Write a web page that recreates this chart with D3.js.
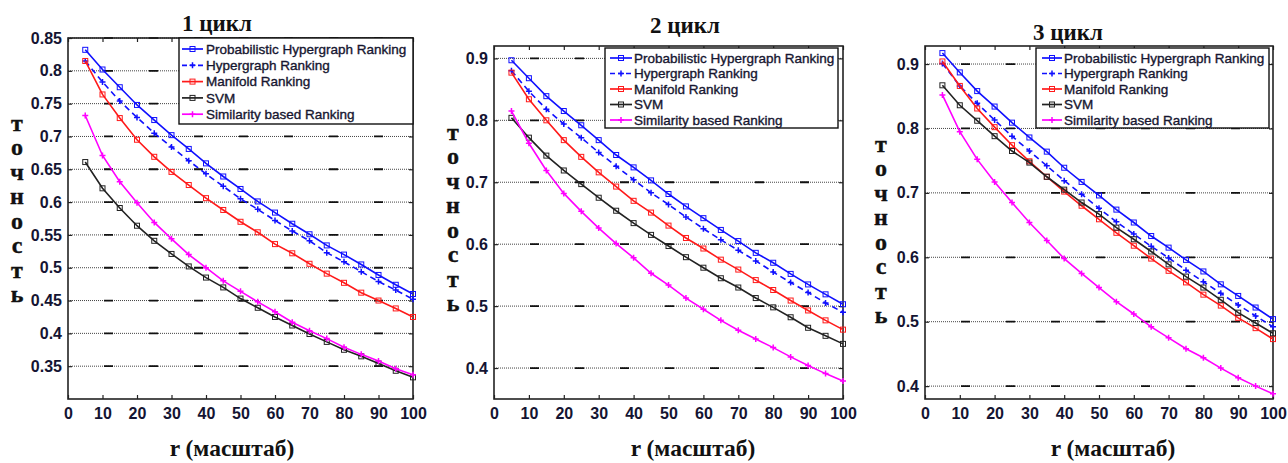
<!DOCTYPE html>
<meta charset="utf-8">
<script src="https://d3js.org/d3.v7.min.js"></script>
<style>
  body { margin: 0; background: #fff; }
  svg { display: block; }
</style>
<div id="chart"></div>
<script>
// data
var rValues = [5,10,15,20,25,30,35,40,45,50,55,60,65,70,75,80,85,90,95,100];
var seriesNames = ["Probabilistic Hypergraph Ranking", "Hypergraph Ranking", "Manifold Ranking", "SVM", "Similarity based Ranking"];
var titles = ["1 цикл", "2 цикл", "3 цикл"];
var xTicks = [0,10,20,30,40,50,60,70,80,90,100];
var yTicks1 = [0.35,0.4,0.45,0.5,0.55,0.6,0.65,0.7,0.75,0.8,0.85];
var yTicks2 = [0.4,0.5,0.6,0.7,0.8,0.9];
var yTicks3 = [0.4,0.5,0.6,0.7,0.8,0.9];

var cycle1 = [
  [0.832,0.802,0.775,0.748,0.725,0.702,0.681,0.659,0.639,0.620,0.601,0.584,0.567,0.551,0.534,0.520,0.505,0.489,0.474,0.460],
  [0.815,0.783,0.754,0.729,0.705,0.684,0.663,0.643,0.624,0.605,0.589,0.572,0.556,0.541,0.523,0.509,0.494,0.479,0.466,0.452],
  [0.815,0.764,0.728,0.695,0.669,0.646,0.626,0.606,0.588,0.570,0.554,0.536,0.522,0.506,0.491,0.477,0.462,0.450,0.438,0.425],
  [0.661,0.621,0.591,0.564,0.541,0.521,0.502,0.485,0.470,0.453,0.439,0.425,0.412,0.399,0.387,0.375,0.365,0.354,0.343,0.333],
  [0.732,0.671,0.631,0.599,0.569,0.544,0.520,0.500,0.480,0.464,0.448,0.433,0.417,0.404,0.392,0.379,0.368,0.358,0.346,0.337]
];
var cycle2 = [
  [0.897,0.868,0.839,0.815,0.792,0.768,0.744,0.724,0.703,0.681,0.661,0.642,0.623,0.605,0.586,0.570,0.552,0.535,0.519,0.503],
  [0.880,0.847,0.818,0.794,0.772,0.748,0.726,0.704,0.683,0.664,0.644,0.625,0.607,0.590,0.573,0.555,0.538,0.522,0.505,0.490],
  [0.877,0.834,0.800,0.768,0.741,0.716,0.693,0.670,0.651,0.630,0.610,0.593,0.575,0.559,0.542,0.526,0.509,0.493,0.477,0.462],
  [0.804,0.772,0.743,0.719,0.697,0.675,0.654,0.634,0.615,0.597,0.579,0.562,0.545,0.530,0.513,0.498,0.482,0.465,0.452,0.439],
  [0.815,0.763,0.719,0.682,0.653,0.626,0.601,0.578,0.553,0.534,0.513,0.495,0.477,0.461,0.447,0.433,0.418,0.404,0.391,0.379]
];
var cycle3 = [
  [0.917,0.887,0.858,0.834,0.809,0.786,0.764,0.739,0.717,0.696,0.674,0.654,0.633,0.615,0.596,0.578,0.558,0.540,0.522,0.504],
  [0.901,0.866,0.839,0.813,0.788,0.765,0.742,0.719,0.698,0.676,0.655,0.636,0.617,0.599,0.580,0.562,0.544,0.526,0.509,0.492],
  [0.904,0.866,0.831,0.802,0.774,0.749,0.725,0.702,0.680,0.659,0.638,0.618,0.598,0.579,0.561,0.542,0.525,0.506,0.490,0.473],
  [0.867,0.836,0.812,0.788,0.765,0.747,0.725,0.705,0.685,0.667,0.646,0.628,0.609,0.589,0.570,0.553,0.534,0.514,0.498,0.482],
  [0.852,0.795,0.752,0.717,0.685,0.654,0.626,0.598,0.575,0.553,0.531,0.512,0.492,0.475,0.458,0.444,0.428,0.413,0.400,0.388]
];

// styles per series
var colors = ["#1010ff", "#1010ff", "#ff1a1a", "#222222", "#ff00ff"];
var dashes = [null, "6,4", null, null, null];
var markers = ["square", "plus", "square", "square", "plus"];

// layout per panel
var panels = [
  {data: cycle1, yDomain: [0.30, 0.85], yTicks: yTicks1, fmt: function(d){ return d3.format(".2f")(d).replace(/0$/, ""); },
   x0: 68, x1: 413, y0: 38, y1: 399, titleX: 217, titleY: 31, labX: 17, labY: 123, xlabX: 232,
   leg: {x: 179, y: 38, w: 234, h: 86, row0: 49, dy: 16.3, lx0: 182, lx1: 203, tx: 206}},
  {data: cycle2, yDomain: [0.35, 0.92], yTicks: yTicks2, fmt: d3.format(".1f"),
   x0: 494, x1: 843, y0: 46, y1: 399, titleX: 685, titleY: 33, labX: 453, labY: 132, xlabX: 693,
   leg: {x: 605, y: 48, w: 233, h: 80, row0: 58, dy: 15.5, lx0: 610, lx1: 632, tx: 634}},
  {data: cycle3, yDomain: [0.38, 0.928], yTicks: yTicks3, fmt: d3.format(".1f"),
   x0: 925, x1: 1273, y0: 46, y1: 399, titleX: 1068, titleY: 40, labX: 881, labY: 144, xlabX: 1113,
   leg: {x: 1036, y: 48, w: 233, h: 80, row0: 58, dy: 15.5, lx0: 1042, lx1: 1062, tx: 1064}}
];

var svg = d3.select("#chart").append("svg")
  .attr("width", 1288).attr("height", 463);

var serif = "'Liberation Serif','Times New Roman',serif";
var sans = "'Liberation Sans',Arial,sans-serif";

function drawMarker(g, type, cx, cy, color) {
  if (type === "square") {
    g.append("rect").attr("x", cx - 2.5).attr("y", cy - 2.5)
      .attr("width", 5).attr("height", 5)
      .attr("fill", "none").attr("stroke", color).attr("stroke-width", 1);
  } else {
    g.append("path").attr("d", "M" + (cx - 3) + "," + cy + "h6M" + cx + "," + (cy - 3) + "v6")
      .attr("stroke", color).attr("stroke-width", 1.5);
  }
}

panels.forEach(function(p, pi) {
  var x = d3.scaleLinear().domain([0, 100]).range([p.x0, p.x1]);
  var y = d3.scaleLinear().domain(p.yDomain).range([p.y1, p.y0]);
  var g = svg.append("g");

  // grid: dotted line plus short solid dashes
  p.yTicks.forEach(function(t) {
    g.append("line").attr("x1", p.x0).attr("x2", p.x1).attr("y1", y(t)).attr("y2", y(t))
      .attr("stroke", "#444").attr("stroke-width", 1).attr("stroke-dasharray", "1,1");
    g.append("line").attr("x1", p.x0).attr("x2", p.x1).attr("y1", y(t)).attr("y2", y(t))
      .attr("stroke", "#111").attr("stroke-width", 1.8)
      .attr("stroke-dasharray", "0,36,9,0");
  });

  // axes, ticks inward
  var xb = g.append("g").attr("transform", "translate(0," + p.y1 + ")")
    .call(d3.axisBottom(x).tickValues(xTicks).tickSize(-4).tickPadding(9));
  var xt = g.append("g").attr("transform", "translate(0," + p.y0 + ")")
    .call(d3.axisTop(x).tickValues(xTicks).tickSize(-4).tickFormat(""));
  var yl = g.append("g").attr("transform", "translate(" + p.x0 + ",0)")
    .call(d3.axisLeft(y).tickValues(p.yTicks).tickSize(-4).tickPadding(6).tickFormat(p.fmt));
  var yr = g.append("g").attr("transform", "translate(" + p.x1 + ",0)")
    .call(d3.axisRight(y).tickValues(p.yTicks).tickSize(-4).tickFormat(""));
  [xb, xt, yl, yr].forEach(function(a) {
    a.select(".domain").remove();
    a.selectAll(".tick line").attr("stroke", "#222").attr("stroke-width", 1.2);
    a.selectAll("text").attr("font-family", sans).attr("font-weight", "bold")
      .attr("font-size", 16).attr("fill", "#141432");
  });
  xb.selectAll("text").attr("dy", "0.71em");

  g.append("rect").attr("x", p.x0).attr("y", p.y0)
    .attr("width", p.x1 - p.x0).attr("height", p.y1 - p.y0)
    .attr("fill", "none").attr("stroke", "#222").attr("stroke-width", 1.6);

  // series
  var line = d3.line().x(function(d, i) { return x(rValues[i]); }).y(function(d) { return y(d); });
  p.data.forEach(function(vals, si) {
    g.append("path").datum(vals).attr("d", line)
      .attr("fill", "none").attr("stroke", colors[si]).attr("stroke-width", 1.6)
      .attr("stroke-dasharray", dashes[si]);
    vals.forEach(function(v, i) { drawMarker(g, markers[si], x(rValues[i]), y(v), colors[si]); });
  });

  // legend
  var L = p.leg;
  var lg = g.append("g");
  lg.append("rect").attr("x", L.x).attr("y", L.y).attr("width", L.w).attr("height", L.h)
    .attr("fill", "#fff").attr("stroke", "#111").attr("stroke-width", 1.4);
  seriesNames.forEach(function(n, si) {
    var ry = L.row0 + si * L.dy;
    lg.append("line").attr("x1", L.lx0).attr("x2", L.lx1).attr("y1", ry).attr("y2", ry)
      .attr("stroke", colors[si]).attr("stroke-width", 1.7).attr("stroke-dasharray", dashes[si] ? "5,3" : null);
    drawMarker(lg, markers[si], (L.lx0 + L.lx1) / 2, ry, colors[si]);
    lg.append("text").attr("x", L.tx).attr("y", ry).attr("dy", "0.35em")
      .attr("font-family", sans).attr("font-size", 13.5).attr("fill", "#161630")
      .attr("stroke", "#161630").attr("stroke-width", 0.35).text(n);
  });

  // title
  g.append("text").attr("x", p.titleX).attr("y", p.titleY).attr("text-anchor", "middle")
    .attr("font-family", serif).attr("font-weight", "bold").attr("font-size", 23).attr("fill", "#111")
    .text(titles[pi]);

  // stacked y label
  "точность".split("").forEach(function(ch, k) {
    g.append("text").attr("x", p.labX).attr("y", p.labY + k * 24.5).attr("dy", "0.32em")
      .attr("text-anchor", "middle").attr("font-family", serif).attr("font-weight", "bold")
      .attr("font-size", 24).attr("fill", "#111").attr("stroke", "#111").attr("stroke-width", 0.4)
      .text(ch);
  });

  // x label
  g.append("text").attr("x", p.xlabX).attr("y", 456).attr("text-anchor", "middle")
    .attr("font-family", serif).attr("font-weight", "bold").attr("font-size", 23.5).attr("fill", "#111")
    .text("r (масштаб)");
});
</script>
